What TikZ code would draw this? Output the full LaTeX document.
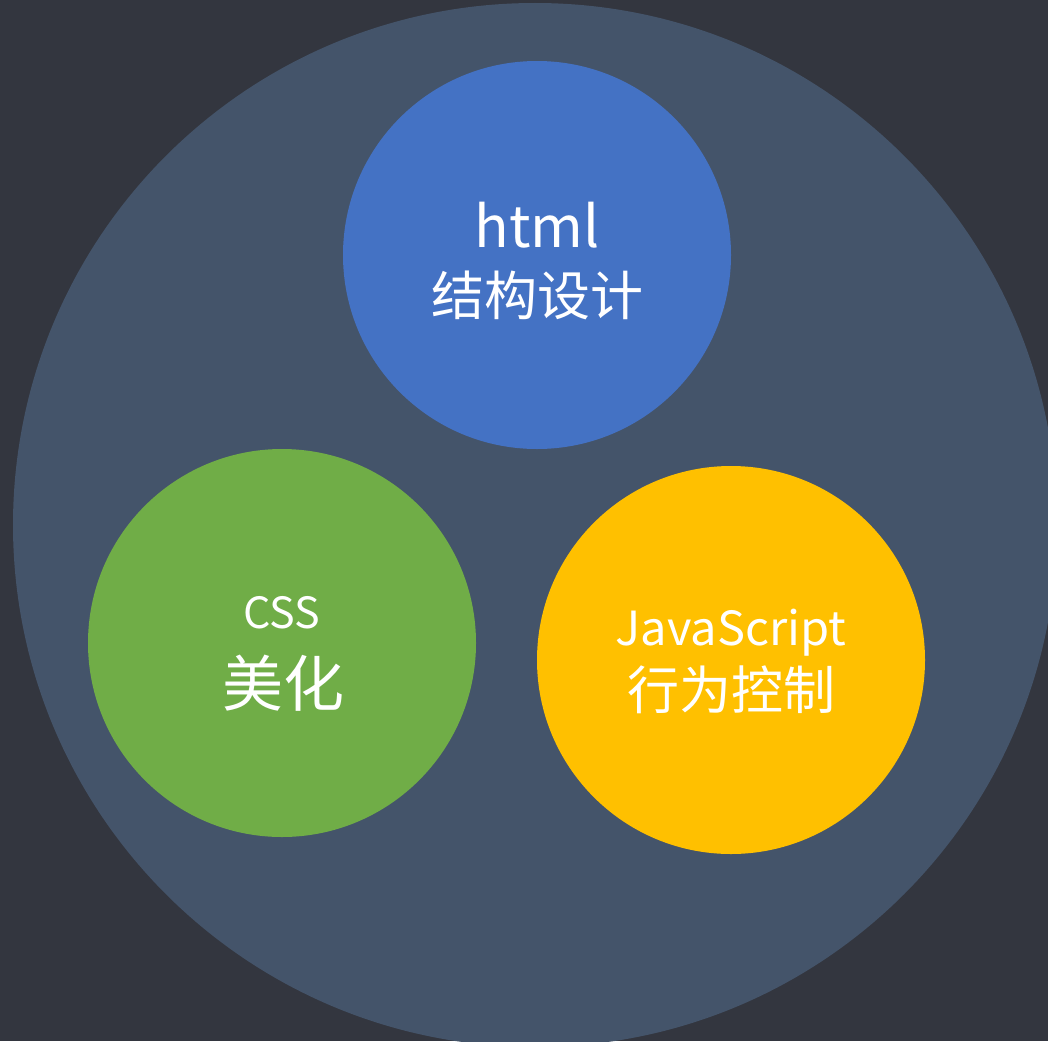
\documentclass[tikz,border=0pt]{standalone}
\usepackage{fontspec}
\setmainfont{Noto Sans CJK SC}
\definecolor{bgdark}{HTML}{33363F}
\definecolor{bigc}{HTML}{44546A}
\definecolor{cblue}{HTML}{4472C4}
\definecolor{cgreen}{HTML}{70AD47}
\definecolor{cyellow}{HTML}{FFC000}
\begin{document}
\begin{tikzpicture}[x=1pt,y=-1pt,
  ball/.style={circle, minimum size=388pt, inner sep=0pt, draw=none},
  lbl/.style={text=white, inner sep=0pt}]
\fill[bgdark] (0,0) rectangle (1048,1041);
\useasboundingbox (0,0) rectangle (1048,1041);
\begin{scope}
\clip (0,0) rectangle (1048,1041);
\node[circle, minimum size=1044pt, inner sep=0pt, fill=bigc] (outer) at (535,525) {};
\end{scope}
\node[ball, fill=cblue] (html) at (537,255) {};
\node[ball, fill=cgreen] (css) at (282,643) {};
\node[ball, fill=cyellow] (js) at (731,660) {};
\node[lbl, anchor=base, font=\fontsize{57}{60}\selectfont] (t1) at (537,247) {html};
\node[lbl, font=\fontsize{53}{56}\selectfont] (t2) at (537,295) {结构设计};
\node[lbl, anchor=base, font=\fontsize{43}{46}\selectfont] (t3) at (282,628) {CSS};
\node[lbl, font=\fontsize{61}{64}\selectfont] (t4) at (283,683) {美化};
\node[lbl, anchor=base, font=\fontsize{47}{50}\selectfont] (t5) at (731,645) {JavaScript};
\node[lbl, font=\fontsize{52}{56}\selectfont] (t6) at (731,690) {行为控制};
\end{tikzpicture}
\end{document}
